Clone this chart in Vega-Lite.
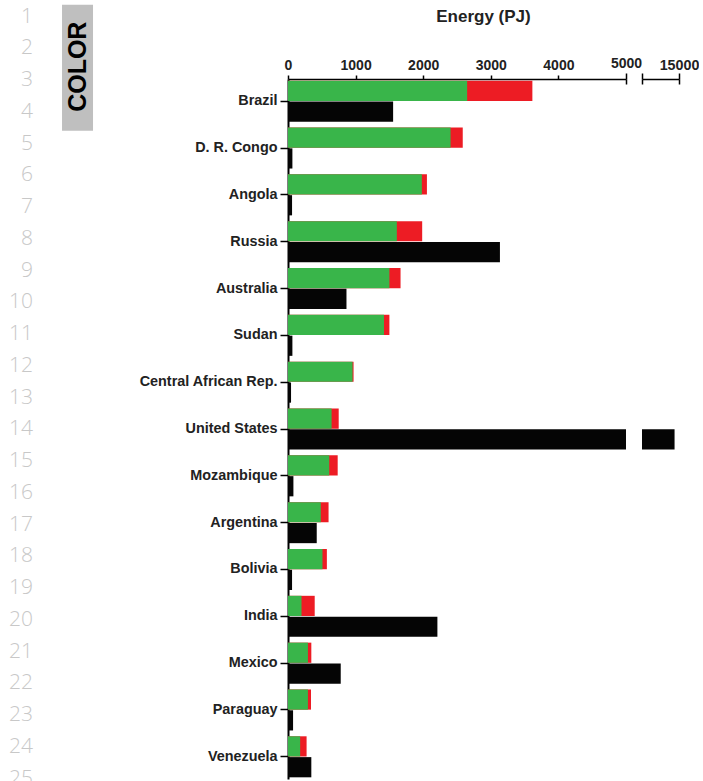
{
  "$schema": "https://vega.github.io/schema/vega-lite/v6.json",
  "padding": {"left": 0, "top": 4, "right": 0, "bottom": 0},
  "bounds": "flush",
  "spacing": 16,
  "config": {
    "view": {"stroke": null, "fill": "white"},
    "background": "white",
    "font": "Liberation Sans"
  },
  "datasets": {
    "hydro": [
      {"country": "Brazil", "economic": 2650, "technical": 3615, "consumption": 1555},
      {"country": "D. R. Congo", "economic": 2405, "technical": 2585, "consumption": 65},
      {"country": "Angola", "economic": 1980, "technical": 2055, "consumption": 60},
      {"country": "Russia", "economic": 1610, "technical": 1985, "consumption": 3135},
      {"country": "Australia", "economic": 1500, "technical": 1665, "consumption": 865},
      {"country": "Sudan", "economic": 1420, "technical": 1500, "consumption": 65},
      {"country": "Central African Rep.", "economic": 955, "technical": 970, "consumption": 45},
      {"country": "United States", "economic": 645, "technical": 750, "consumption": 14400},
      {"country": "Mozambique", "economic": 610, "technical": 735, "consumption": 80},
      {"country": "Argentina", "economic": 485, "technical": 600, "consumption": 425},
      {"country": "Bolivia", "economic": 510, "technical": 575, "consumption": 60},
      {"country": "India", "economic": 200, "technical": 395, "consumption": 2210},
      {"country": "Mexico", "economic": 295, "technical": 345, "consumption": 780},
      {"country": "Paraguay", "economic": 295, "technical": 340, "consumption": 75},
      {"country": "Venezuela", "economic": 180, "technical": 275, "consumption": 345}
    ],
    "lines": [
      {"line": 1}, {"line": 2}, {"line": 3}, {"line": 4}, {"line": 5},
      {"line": 6}, {"line": 7}, {"line": 8}, {"line": 9}, {"line": 10},
      {"line": 11}, {"line": 12}, {"line": 13}, {"line": 14}, {"line": 15},
      {"line": 16}, {"line": 17}, {"line": 18}, {"line": 19}, {"line": 20},
      {"line": 21}, {"line": 22}, {"line": 23}, {"line": 24}, {"line": 25}
    ],
    "tag": [{"label": "COLOR"}]
  },
  "hconcat": [
    {
      "width": 272,
      "height": 700,
      "layer": [
        {
          "data": {"name": "tag"},
          "mark": {"type": "rect", "fill": "#bfbfbf"},
          "encoding": {
            "x": {"datum": 0.228, "type": "quantitative", "scale": {"domain": [0, 1]}, "axis": null},
            "x2": {"datum": 0.342},
            "y": {"datum": 0.622, "type": "quantitative", "scale": {"domain": [2.962, 25.009], "reverse": true}, "axis": null},
            "y2": {"datum": 4.59}
          }
        },
        {
          "data": {"name": "tag"},
          "mark": {"type": "text", "angle": 270, "fontSize": 25, "fontWeight": "bold", "font": "Liberation Sans", "color": "black", "align": "center", "baseline": "middle"},
          "encoding": {
            "text": {"field": "label"},
            "x": {"datum": 0.2886, "type": "quantitative", "scale": {"domain": [0, 1]}, "axis": null},
            "y": {"datum": 2.575, "type": "quantitative", "scale": {"domain": [2.962, 25.009], "reverse": true}, "axis": null}
          }
        },
        {
          "data": {"name": "lines"},
          "mark": {"type": "text", "font": "Open Sans", "fontWeight": 300, "fontSize": 21, "color": "#c8c8c8", "align": "right", "baseline": "middle"},
          "encoding": {
            "text": {"field": "line", "type": "quantitative"},
            "x": {"datum": 0.1213, "type": "quantitative", "scale": {"domain": [0, 1]}, "axis": null},
            "y": {"field": "line", "type": "quantitative", "scale": {"domain": [2.962, 25.009], "reverse": true}, "axis": null}
          }
        }
      ]
    },
    {
      "width": 338,
      "height": 700,
      "data": {"name": "hydro"},
      "encoding": {
        "y": {
          "field": "country", "type": "nominal", "sort": null,
          "scale": {"paddingInner": 0.124, "paddingOuter": 0.036},
          "axis": {
            "title": null, "labelFontSize": 14.4, "labelFontWeight": "bold", "labelColor": "#222",
            "tickSize": 8, "tickWidth": 1.5, "tickColor": "black",
            "domainColor": "black", "domainWidth": 2, "labelPadding": 3
          }
        }
      },
      "layer": [
        {
          "mark": {"type": "bar", "color": "#ED1C24", "clip": true},
          "encoding": {
            "x": {
              "field": "technical", "type": "quantitative",
              "scale": {"domain": [0, 5000]},
              "axis": {
                "orient": "top", "values": [0, 1000, 2000, 3000, 4000, 5000], "format": "d",
                "title": "Energy (PJ)", "titleX": 195, "titleY": -58, "titleBaseline": "alphabetic",
                "titleAlign": "center", "titleFontSize": 17, "titleFontWeight": "bold", "titleColor": "#222",
                "labelFontSize": 14, "labelFontWeight": "bold", "labelColor": "#222",
                "labelBaseline": "alphabetic", "labelPadding": 6, "labelFlush": false, "labelOverlap": false,
                "tickSize": {"condition": {"test": "datum.value == 5000", "value": 6}, "value": 4},
                "tickWidth": 1.5, "tickColor": "black",
                "domainColor": "black", "domainWidth": 1.5, "grid": false
              }
            },
            "yOffset": {"datum": "potential", "scale": {"domain": ["potential", "consumption"], "paddingInner": 0.03, "paddingOuter": 0}}
          }
        },
        {
          "mark": {"type": "bar", "color": "#39B54A", "clip": true},
          "encoding": {
            "x": {"field": "economic", "type": "quantitative", "scale": {"domain": [0, 5000]}, "axis": null},
            "yOffset": {"datum": "potential", "scale": {"domain": ["potential", "consumption"], "paddingInner": 0.03, "paddingOuter": 0}}
          }
        },
        {
          "mark": {"type": "bar", "color": "#050505", "clip": true},
          "encoding": {
            "x": {"field": "consumption", "type": "quantitative", "scale": {"domain": [0, 5000]}, "axis": null},
            "yOffset": {"datum": "consumption", "scale": {"domain": ["potential", "consumption"], "paddingInner": 0.03, "paddingOuter": 0}}
          }
        },
        {
          "mark": {"type": "point", "opacity": 0},
          "encoding": {
            "x": {
              "datum": 5000, "type": "quantitative", "scale": {"domain": [0, 5000]},
              "axis": {"orient": "top", "values": [5000], "tickSize": -5, "tickWidth": 1.5, "tickColor": "black", "labels": false, "domain": false, "title": null, "grid": false}
            }
          }
        }
      ],
      "resolve": {"axis": {"x": "independent"}}
    },
    {
      "width": 37,
      "height": 700,
      "data": {"name": "hydro"},
      "encoding": {
        "y": {
          "field": "country", "type": "nominal", "sort": null,
          "scale": {"paddingInner": 0.124, "paddingOuter": 0.036},
          "axis": null
        }
      },
      "layer": [
        {
          "mark": {"type": "bar", "color": "#050505", "clip": true},
          "encoding": {
            "x": {
              "field": "consumption", "type": "quantitative",
              "scale": {"domain": [10000, 15000], "zero": false},
              "axis": {
                "orient": "top", "values": [10000, 15000], "format": "d",
                "labelExpr": "datum.value == 15000 ? datum.label : ''",
                "title": null,
                "labelFontSize": 14.3, "labelFontWeight": "bold", "labelColor": "#222",
                "labelBaseline": "alphabetic", "labelPadding": 4, "labelFlush": false, "labelOverlap": false,
                "tickSize": 6, "tickWidth": 1.5, "tickColor": "black",
                "domainColor": "black", "domainWidth": 1.5, "grid": false
              }
            },
            "yOffset": {"datum": "consumption", "scale": {"domain": ["potential", "consumption"], "paddingInner": 0.03, "paddingOuter": 0}}
          }
        },
        {
          "mark": {"type": "point", "opacity": 0},
          "encoding": {
            "x": {
              "datum": 10000, "type": "quantitative", "scale": {"domain": [10000, 15000], "zero": false},
              "axis": {"orient": "top", "values": [10000, 15000], "tickSize": -5, "tickWidth": 1.5, "tickColor": "black", "labels": false, "domain": false, "title": null, "grid": false}
            }
          }
        }
      ],
      "resolve": {"axis": {"x": "independent"}}
    }
  ]
}
